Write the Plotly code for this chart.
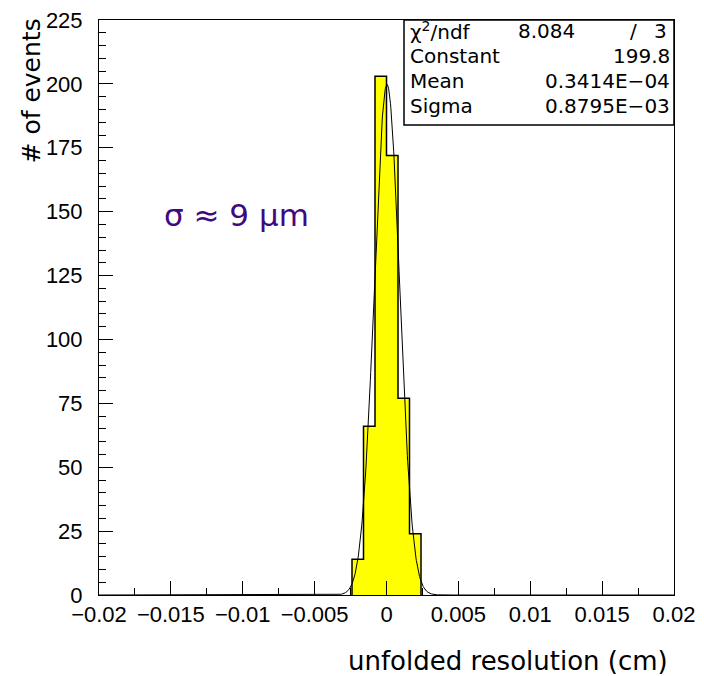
import numpy as np
import plotly.graph_objects as go

# ---- data ----
bin_centers = [-0.0020, -0.0012, -0.0004, 0.0004, 0.0012, 0.0020]
bin_counts = [14, 66, 203, 172, 77, 24]
bin_width = 0.0008

fit_constant = 199.8
fit_mean = 0.3414e-04
fit_sigma = 0.8795e-03
chi2_value = "8.084"
ndf_value = "3"

x_tick_vals = [-0.02, -0.015, -0.01, -0.005, 0, 0.005, 0.01, 0.015, 0.02]
x_tick_text = ["\u22120.02", "\u22120.015", "\u22120.01", "\u22120.005", "0", "0.005", "0.01", "0.015", "0.02"]
y_tick_vals = [0, 25, 50, 75, 100, 125, 150, 175, 200, 225]

stat_labels = ["Constant", "Mean", "Sigma"]
stat_values = ["199.8", "0.3414E\u221204", "0.8795E\u221203"]

# ---- derived ----
edges = [c - bin_width / 2 for c in bin_centers] + [bin_centers[-1] + bin_width / 2]
step_x = [edges[0]] + edges
step_y = [0] + bin_counts + [0]

fx = np.linspace(-0.02, 0.02, 1601)
fy = fit_constant * np.exp(-0.5 * ((fx - fit_mean) / fit_sigma) ** 2)

fig = go.Figure()
fig.add_trace(go.Bar(x=bin_centers, y=bin_counts, width=bin_width,
                     marker=dict(color="#ffff00", line=dict(width=0)),
                     hoverinfo="skip"))
fig.add_trace(go.Scatter(x=step_x, y=step_y, mode="lines", line_shape="hv",
                         line=dict(color="black", width=1.5), hoverinfo="skip"))
fig.add_trace(go.Scatter(x=fx, y=fy, mode="lines",
                         line=dict(color="black", width=1), hoverinfo="skip"))

W, H = 704, 676
L, R, T, B = 99, 674, 20, 595
pw, ph = R - L, B - T


def px(x):
    return (x - L) / pw


def py(y):
    return (B - y) / ph


tick_font = dict(family="Liberation Sans, Arial, sans-serif", size=22, color="black")
fig.update_layout(
    width=W, height=H,
    margin=dict(l=L, r=W - R, t=T, b=H - B, autoexpand=False),
    paper_bgcolor="white", plot_bgcolor="white",
    showlegend=False, bargap=0,
    xaxis=dict(range=[-0.02, 0.02], tickvals=x_tick_vals, ticktext=x_tick_text,
               ticks="inside", ticklen=14, tickcolor="black", tickwidth=1,
               minor=dict(dtick=0.0025, tick0=0, ticks="inside", ticklen=7, tickcolor="black"),
               showgrid=False, zeroline=False, showline=True, linecolor="black",
               linewidth=1, mirror=True, tickfont=tick_font, fixedrange=True,
               automargin=False, ticklabelstandoff=0),
    yaxis=dict(range=[0, 225], tickvals=y_tick_vals,
               ticks="inside", ticklen=14, tickcolor="black", tickwidth=1,
               minor=dict(dtick=5, tick0=0, ticks="inside", ticklen=7, tickcolor="black"),
               showgrid=False, zeroline=False, showline=True, linecolor="black",
               linewidth=1, mirror=True, tickfont=tick_font, fixedrange=True,
               ticklabelstandoff=11, automargin=False),
)

# stats box
box_l, box_r, box_t, box_b = 404, 674, 20, 125
fig.add_shape(type="rect", xref="paper", yref="paper",
              x0=px(box_l), x1=px(box_r), y0=py(box_b), y1=py(box_t),
              fillcolor="white", line=dict(color="black", width=1.5), layer="above")

stat_font = dict(family="DejaVu Sans, sans-serif", size=20, color="black")
row_y = [31, 56, 81, 106]
fig.add_annotation(x=px(408), y=py(row_y[0]), xref="paper", yref="paper",
                   text="\u03c7<sup>2</sup>/ndf", showarrow=False,
                   xanchor="left", yanchor="middle", font=stat_font)
fig.add_annotation(x=px(577), y=py(row_y[0]), xref="paper", yref="paper",
                   text=chi2_value, showarrow=False,
                   xanchor="right", yanchor="middle", font=stat_font)
fig.add_annotation(x=px(633), y=py(row_y[0]), xref="paper", yref="paper",
                   text="/", showarrow=False,
                   xanchor="center", yanchor="middle", font=stat_font)
fig.add_annotation(x=px(669), y=py(row_y[0]), xref="paper", yref="paper",
                   text=ndf_value, showarrow=False,
                   xanchor="right", yanchor="middle", font=stat_font)
for i, (lab, val) in enumerate(zip(stat_labels, stat_values)):
    fig.add_annotation(x=px(408), y=py(row_y[i + 1]), xref="paper", yref="paper",
                       text=lab, showarrow=False,
                       xanchor="left", yanchor="middle", font=stat_font)
    fig.add_annotation(x=px(672), y=py(row_y[i + 1]), xref="paper", yref="paper",
                       text=val, showarrow=False,
                       xanchor="right", yanchor="middle", font=stat_font)

# sigma annotation
fig.add_annotation(x=px(162), y=py(215), xref="paper", yref="paper",
                   text="\u03c3 \u2248 9 \u03bcm", showarrow=False,
                   xanchor="left", yanchor="middle",
                   font=dict(family="DejaVu Sans, sans-serif", size=31, color="#3f0a80"))

# axis titles
fig.add_annotation(x=px(670), y=py(661), xref="paper", yref="paper",
                   text="unfolded resolution (cm)", showarrow=False,
                   xanchor="right", yanchor="middle",
                   font=dict(family="DejaVu Sans, sans-serif", size=26, color="black"))
fig.add_annotation(x=px(31), y=py(17), xref="paper", yref="paper",
                   text="# of events", showarrow=False, textangle=-90,
                   xanchor="center", yanchor="top",
                   font=dict(family="DejaVu Sans, sans-serif", size=25, color="black"))

fig.write_html("out.html",
               config={"displayModeBar": False},
               post_script="document.body.style.margin='0';document.body.style.padding='0';"
                           "document.body.style.overflow='hidden';"
                           "document.documentElement.style.overflow='hidden';")
